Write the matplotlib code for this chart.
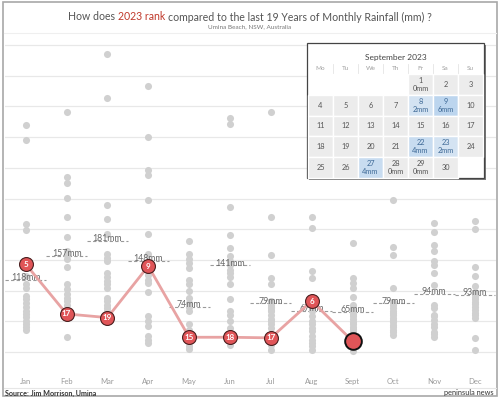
import matplotlib
matplotlib.use("Agg")
import matplotlib.pyplot as plt
from matplotlib.patches import Rectangle
import numpy as np

# ---- data ---------------------------------------------------------------
months = ["Jan", "Feb", "Mar", "Apr", "May", "Jun",
          "Jul", "Aug", "Sept", "Oct", "Nov", "Dec"]

# previous years monthly rainfall (mm)
jan = [369, 345, 208, 199, 123, 111, 104, 92, 86, 80, 73, 67, 62, 57, 51, 46, 40, 36]
feb = [391, 285, 276, 251, 220, 187, 164, 158, 152, 138, 110, 102, 95, 88, 83, 76, 55, 24]
mar = [486, 413, 239, 216, 192, 159, 153, 148, 129, 122, 115, 110, 104, 88, 83, 77, 72, 66]
apr = [433, 350, 296, 289, 248, 192, 159, 148, 126, 118, 113, 98, 58, 50, 42, 26, 20, 15]
may = [180, 159, 152, 145, 137, 117, 110, 99, 88, 80, 73, 67, 45, 35, 20, 15, 9, 5]
jun = [381, 371, 236, 191, 170, 156, 148, 141, 134, 129, 122, 111, 86, 66, 60, 50, 39, 12]
jul = [391, 220, 158, 120, 110, 83, 77, 74, 72, 69, 66, 61, 54, 50, 45, 39, 12, 4]
aug = [220, 202, 132, 121, 85, 74, 70, 66, 58, 50, 45, 39, 34, 26, 20, 15, 9, 3]
sep = [177, 120, 112, 104, 90, 77, 71, 66, 62, 58, 54, 49, 45, 41, 37, 33, 28, 1]
oct_ = [247, 171, 158, 105, 82, 77, 71, 66, 63, 60, 55, 52, 49, 44, 40, 36, 33, 28]
nov = [210, 195, 174, 164, 149, 142, 129, 109, 77, 71, 60, 58, 52, 46, 41, 33, 30, 25]
dec = [213, 200, 139, 124, 107, 98, 95, 90, 86, 82, 78, 74, 68, 64, 60, 55, 22, 4]
history = [jan, feb, mar, apr, may, jun, jul, aug, sep, oct_, nov, dec]

rain_2023 = [143, 62, 56, 140, 24, 24, 23, 83, 18]
rank_2023 = ["5", "17", "19", "9", "15", "18", "17", "6", ""]
avg_mm = [118, 157, 181, 148, 74, 141, 79, 67, 65, 79, 94, 93]

# September 2023 daily rainfall (days with a reading)
sept_rain = {1: 0, 8: 2, 9: 6, 22: 4, 23: 2, 27: 4, 28: 0, 29: 0}
weekdays = ["Mo", "Tu", "We", "Th", "Fr", "Sa", "Su"]

FONT = "Lato"
W, H = 500, 398

fig = plt.figure(figsize=(W / 100, H / 100), dpi=100)
fig.patch.set_facecolor("white")

# ---- main chart ---------------------------------------------------------
ax_l, ax_r, ax_t, ax_b = 5.3, 495.5, 36, 372
ax = fig.add_axes([ax_l / W, 1 - ax_b / H, (ax_r - ax_l) / W, (ax_b - ax_t) / H])
ax.set_xlim(-0.5, 11.5)
ax.set_ylim(-32.6, 514.7)
for s in ax.spines.values():
    s.set_visible(False)
ax.set_yticks(np.arange(0, 501, 50))
ax.set_yticklabels([])
ax.tick_params(axis="y", length=0)
ax.grid(axis="y", color="#e8e8e8", lw=0.9)
ax.set_axisbelow(True)
ax.set_xticks(range(12))
ax.set_xticklabels(months, fontsize=5.5, color="#9a9a9a", family=FONT)
ax.tick_params(axis="x", length=0, pad=4)

for i, vals in enumerate(history):
    ax.scatter(np.full(len(vals), i), vals, s=26, color="#d0d0d0", zorder=3, lw=0)

# average lines + labels (labels sit over the dots, lines under them)
for i, a in enumerate(avg_mm):
    ax.plot([i - 0.5, i + 0.5], [a, a], ls=(0, (3, 2)), color="#9a9a9a", lw=0.8, zorder=2)
    ax.annotate(f"{a}mm", (i, a), xytext=(0, -1.5), textcoords="offset points",
                ha="center", va="bottom", fontsize=6.3, color="#666666",
                family=FONT, zorder=3.5)

# 2023 line
x23 = np.arange(len(rain_2023))
ax.plot(x23, rain_2023, color="#e8a3a3", lw=2, zorder=4, solid_capstyle="round")
ax.plot(x23[:-1], rain_2023[:-1], "o", ms=10, color="#e05558",
        mec="#4a1f1f", mew=0.8, zorder=5)
ax.plot(x23[-1], rain_2023[-1], "o", ms=12, color="#e05558",
        mec="#111111", mew=1.4, zorder=5)
for i, (v, r) in enumerate(zip(rain_2023, rank_2023)):
    if r:
        ax.text(i, v, r, ha="center", va="center", fontsize=5.8,
                color="white", fontweight="bold", family=FONT, zorder=6)

# ---- overlay in pixel coordinates ---------------------------------------
ov = fig.add_axes([0, 0, 1, 1], zorder=10)
ov.set_xlim(0, W)
ov.set_ylim(H, 0)
ov.axis("off")

ov.add_patch(Rectangle((3, 2), W - 6, H - 4, fill=False, ec="#a8a8a8", lw=1.2))
ov.plot([4, W - 4], [33, 33], color="#efefef", lw=0.8)
ov.plot([4, W - 4], [388, 388], color="#e6e6e6", lw=0.8)

# title with coloured words
title_parts = [("How does", "#555555"), ("2023 rank", "#c0392b"),
               ("compared to the last 19 Years of Monthly Rainfall (mm) ?", "#555555")]
renderer = fig.canvas.get_renderer()


def text_w(s):
    t = ov.text(0, 0, s, fontsize=7.6, family=FONT)
    wdt = t.get_window_extent(renderer).width
    t.remove()
    return wdt


space = text_w("a a") - text_w("aa")
widths = [text_w(p) for p, _ in title_parts]
total = sum(widths) + space * (len(title_parts) - 1)
x = W / 2 - total / 2
for (p, c), wdt in zip(title_parts, widths):
    ov.text(x, 17, p, fontsize=7.6, family=FONT, color=c, ha="left", va="center")
    x += wdt + space

ov.text(W / 2, 26.5, "Umina Beach, NSW, Australia", fontsize=4.6, family=FONT,
        color="#777777", ha="center", va="center")

ov.text(5, 393, "Source: Jim Morrison, Umina", fontsize=5.1, family=FONT,
        color="#333333", fontweight="bold", ha="left", va="center")
ov.text(494, 393, "peninsula news", fontsize=5.3, family=FONT,
        color="#333333", ha="right", va="center")

# ---- calendar -------------------------------------------------------------
c_l, c_t, c_r, c_b = 307, 43, 484, 178
ov.add_patch(Rectangle((c_l + 2, c_t + 2), c_r - c_l, c_b - c_t, fc="#7a7a7a", ec="none"))
ov.add_patch(Rectangle((c_l, c_t), c_r - c_l, c_b - c_t, fc="white", ec="#444444", lw=0.9))
ov.text((c_l + c_r) / 2, 57.5, "September 2023", fontsize=6, family=FONT,
        color="#444444", ha="center", va="center")

cw = (c_r - c_l - 2) / 7
grid_top = 74
rh = (c_b - grid_top) / 5
for j, wd in enumerate(weekdays):
    ov.text(c_l + 1 + (j + 0.5) * cw, 68.5, wd, fontsize=4.6, family=FONT,
            color="#a0a0a0", ha="center", va="center")
    if j > 0:
        ov.plot([c_l + 1 + j * cw] * 2, [64, 73], color="#e4e4e4", lw=0.6)

first_col = 4  # 1 Sept 2023 was a Friday
light = np.array([0.878, 0.918, 0.957])
dark = np.array([0.737, 0.835, 0.933])
for d in range(1, 31):
    col = (d - 1 + first_col) % 7
    row = (d - 1 + first_col) // 7
    x0 = c_l + 1 + col * cw
    y0 = grid_top + row * rh
    mm = sept_rain.get(d)
    if mm:
        fc = light + (dark - light) * mm / 6
        tc = "#3f6a97"
    else:
        fc = "#ececec"
        tc = "#555555"
    ov.add_patch(Rectangle((x0, y0), cw, rh, fc=fc, ec="white", lw=1))
    cx, cy = x0 + cw / 2, y0 + rh / 2
    if mm is None:
        ov.text(cx, cy, str(d), fontsize=5.3, family=FONT, color=tc,
                ha="center", va="center")
    else:
        ov.text(cx, cy - 4, str(d), fontsize=5.3, family=FONT, color=tc,
                ha="center", va="center")
        ov.text(cx, cy + 4, f"{mm}mm", fontsize=5.3, family=FONT, color=tc,
                ha="center", va="center")

fig.savefig("out.png", dpi=100)
